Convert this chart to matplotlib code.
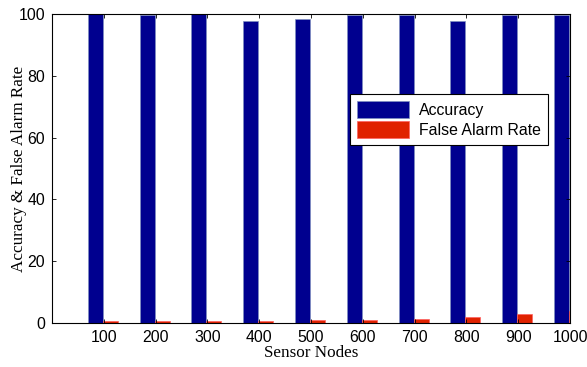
import numpy as np
import matplotlib.pyplot as plt

nodes = ['100', '200', '300', '400', '500', '600', '700', '800', '900', '1000']
accuracy = [100, 99.7, 100, 97.7, 98.4, 99.6, 99.6, 97.7, 99.6, 99.6]
false_alarm = [0.5, 0.5, 0.5, 0.5, 1.0, 0.9, 1.3, 2.0, 2.9, 3.8]

x = np.arange(1, len(nodes) + 1)
w = 0.29

fig = plt.figure(figsize=(5.87, 3.67), dpi=100)
ax = fig.add_axes([52 / 587, 44 / 367, 518 / 587, 309 / 367])

ax.bar(x - 0.165, accuracy, w, color='#00008f', edgecolor='#8090c0', linewidth=0.5, label='Accuracy')
ax.bar(x + 0.125, false_alarm, w, color='#e02200', edgecolor='#ff6060', linewidth=0.5, label='False Alarm Rate')

ax.set_xlim(0, 10.0)
ax.set_ylim(0, 100)
ax.set_xticks(x)
ax.set_xticklabels(nodes)
ax.set_yticks([0, 20, 40, 60, 80, 100])
ax.tick_params(direction='in', top=True, right=True, length=3, width=0.6,
               labelsize=11.4, pad=5)
for lab in ax.get_xticklabels() + ax.get_yticklabels():
    lab.set_fontfamily('Liberation Sans')
for s in ax.spines.values():
    s.set_linewidth(0.8)

ax.set_xlabel('Sensor Nodes', fontfamily='Liberation Serif', fontsize=12.3, labelpad=0)
ax.set_ylabel('Accuracy & False Alarm Rate', fontfamily='Liberation Serif', fontsize=12.3)
ax.yaxis.set_label_coords(-0.048, 0.5)

leg = ax.legend(loc='upper left', bbox_to_anchor=(0.575, 0.741), borderaxespad=0,
                fancybox=False, framealpha=1, edgecolor='black',
                handlelength=3.3, handleheight=1.25,
                borderpad=0.45, labelspacing=0.2, handletextpad=0.6,
                prop={'family': 'Liberation Sans', 'size': 11.4})
leg.get_frame().set_linewidth(0.8)

plt.savefig('out.png', dpi=100)
